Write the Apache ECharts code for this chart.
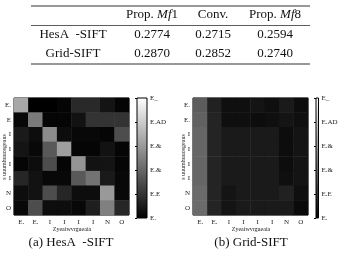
<!DOCTYPE html>
<html>
<head>
<meta charset="utf-8">
<script src="https://cdn.jsdelivr.net/npm/echarts@6/dist/echarts.min.js"></script>
<style>
  html, body { margin: 0; padding: 0; background: #fff; }
  #chart { width: 338px; height: 253px; }
</style>
</head>
<body>
<div id="chart"></div>
<script>
// table
var tableHeads = ["", "Prop. {i|Mf}1", "Conv.", "Prop. {i|Mf}8"];
var tableRows = ["HesA  -SIFT", "Grid-SIFT"];
var tableVals = [
  ["0.2774", "0.2715", "0.2594"],
  ["0.2870", "0.2852", "0.2740"]
];

// heatmaps
var colLabels = ["E.", "E.", "I", "I", "I", "I", "N", "O"];
var rowLabelsA = ["E.", "E", "I", "I", "I", "I", "N", "O"];
var rowLabelsB = ["E.", "E.", "I", "I", "I", "I", "N", "O"];
var barLabels = ["E.", "E.E", "E.&", "E.&", "E.AD", "E_"]; // bottom -> top
var xTitle = "Zyeaiwvrgueaia";
var yTitle = "s uuumhuuosgeaus";
var captions = ["(a) HesA  -SIFT", "(b) Grid-SIFT"];

// rows top -> bottom, cols left -> right, 0 = black, 1 = white
var matA = [
  [0.66, 0.00, 0.00, 0.02, 0.16, 0.16, 0.08, 0.02],
  [0.03, 0.48, 0.02, 0.02, 0.07, 0.20, 0.20, 0.20],
  [0.10, 0.05, 0.55, 0.05, 0.03, 0.03, 0.02, 0.30],
  [0.08, 0.03, 0.35, 0.62, 0.02, 0.02, 0.07, 0.02],
  [0.02, 0.05, 0.30, 0.02, 0.58, 0.07, 0.08, 0.02],
  [0.15, 0.07, 0.03, 0.03, 0.35, 0.45, 0.10, 0.03],
  [0.05, 0.07, 0.30, 0.15, 0.05, 0.05, 0.60, 0.03],
  [0.03, 0.30, 0.05, 0.05, 0.03, 0.12, 0.50, 0.15]
];
var matB = [
  [0.36, 0.13, 0.06, 0.06, 0.08, 0.06, 0.10, 0.05],
  [0.38, 0.14, 0.06, 0.06, 0.05, 0.06, 0.08, 0.06],
  [0.40, 0.14, 0.10, 0.10, 0.10, 0.10, 0.05, 0.08],
  [0.40, 0.14, 0.10, 0.10, 0.10, 0.10, 0.05, 0.08],
  [0.40, 0.14, 0.10, 0.10, 0.10, 0.10, 0.05, 0.08],
  [0.40, 0.14, 0.10, 0.10, 0.10, 0.10, 0.06, 0.08],
  [0.42, 0.14, 0.08, 0.10, 0.10, 0.10, 0.13, 0.06],
  [0.42, 0.14, 0.08, 0.10, 0.10, 0.10, 0.10, 0.04]
];

function toCells(m) {
  var out = [];
  m.forEach(function (row, r) {
    row.forEach(function (v, c) { out.push([c, r, v]); });
  });
  return out;
}

var serif = "Liberation Serif";
var small = { fontFamily: serif, fontSize: 7, color: "#222" };

var chart = echarts.init(document.getElementById("chart"), null, { renderer: "canvas" });

var grayBar = new echarts.graphic.LinearGradient(0, 0, 0, 1, [
  { offset: 0, color: "#ffffff" },
  { offset: 1, color: "#000000" }
]);

function heatGrid(left) {
  return { left: left, top: 98, width: 115, height: 117, show: true, borderColor: "#000", borderWidth: 1 };
}
function barGrid(left) {
  return { left: left, top: 98, width: 10, height: 120, show: true, backgroundColor: grayBar, borderColor: "#000", borderWidth: 1 };
}

var graphics = [];
// table rules
[6, 25.5, 64].forEach(function (y, i) {
  graphics.push({ type: "line", shape: { x1: 31, y1: y, x2: 310, y2: y }, style: { stroke: "#333", lineWidth: i === 1 ? 0.8 : 1.1 } });
});
var colX = [73, 152, 213, 275];
tableHeads.forEach(function (h, i) {
  if (!h) return;
  graphics.push({ type: "text", x: colX[i], y: 15, style: {
    text: h, fill: "#111", font: "13px " + serif, align: "center", verticalAlign: "middle",
    rich: { i: { fontStyle: "italic", fontFamily: serif, fontSize: 13, fill: "#111" } }
  } });
});
tableRows.forEach(function (name, r) {
  var y = 35 + r * 18.5;
  graphics.push({ type: "text", x: colX[0], y: y, style: { text: name, fill: "#111", font: "13px " + serif, align: "center", verticalAlign: "middle" } });
  tableVals[r].forEach(function (v, c) {
    graphics.push({ type: "text", x: colX[c + 1], y: y, style: { text: v, fill: "#111", font: "13px " + serif, align: "center", verticalAlign: "middle" } });
  });
});
// captions and axis titles
[[71, 243, captions[0]], [251, 243, captions[1]]].forEach(function (c) {
  graphics.push({ type: "text", x: c[0], y: c[1], style: { text: c[2], fill: "#111", font: "13px " + serif, align: "center", verticalAlign: "middle" } });
});
[72, 251].forEach(function (x) {
  graphics.push({ type: "text", x: x, y: 229, style: { text: xTitle, fill: "#222", font: "6px " + serif, align: "center", verticalAlign: "middle" } });
});
[4, 183].forEach(function (x) {
  graphics.push({ type: "text", x: x, y: 157, rotation: Math.PI / 2, style: { text: yTitle, fill: "#222", font: "6px " + serif, align: "center", verticalAlign: "middle" } });
});

function catX(gi) {
  return { type: "category", gridIndex: gi, data: colLabels, position: "bottom",
    axisLine: { show: false }, axisTick: { show: false }, splitLine: { show: false },
    axisLabel: Object.assign({ margin: 4, interval: 0 }, small) };
}
function catY(gi, labels) {
  return { type: "category", gridIndex: gi, data: labels, inverse: true,
    axisLine: { show: false }, axisTick: { show: false }, splitLine: { show: false },
    axisLabel: Object.assign({ margin: 3, interval: 0 }, small) };
}
function barX(gi) {
  return { type: "value", gridIndex: gi, show: false, min: 0, max: 1 };
}
function barY(gi) {
  return { type: "value", gridIndex: gi, min: 0, max: 1, interval: 0.2, position: "right",
    axisLine: { show: false }, splitLine: { show: false },
    axisTick: { show: true, inside: true, length: 2, lineStyle: { color: "#000" } },
    axisLabel: Object.assign({ margin: 3, formatter: function (v) { return barLabels[Math.round(v * 5)]; } }, small) };
}

var option = {
  backgroundColor: "#fff",
  animation: false,
  grid: [heatGrid(14), heatGrid(193), barGrid(137), barGrid(316)],
  xAxis: [catX(0), catX(1), barX(2), barX(3)],
  yAxis: [catY(0, rowLabelsA), catY(1, rowLabelsB), barY(2), barY(3)],
  visualMap: [
    { show: false, seriesIndex: 0, min: 0, max: 1, inRange: { color: ["#000000", "#ffffff"] } },
    { show: false, seriesIndex: 1, min: 0, max: 1, inRange: { color: ["#000000", "#ffffff"] } }
  ],
  series: [
    { type: "heatmap", xAxisIndex: 0, yAxisIndex: 0, data: toCells(matA) },
    { type: "heatmap", xAxisIndex: 1, yAxisIndex: 1, data: toCells(matB) },
    { type: "line", xAxisIndex: 2, yAxisIndex: 2, data: [] },
    { type: "line", xAxisIndex: 3, yAxisIndex: 3, data: [] }
  ],
  graphic: graphics
};
chart.setOption(option);
</script>
</body>
</html>
